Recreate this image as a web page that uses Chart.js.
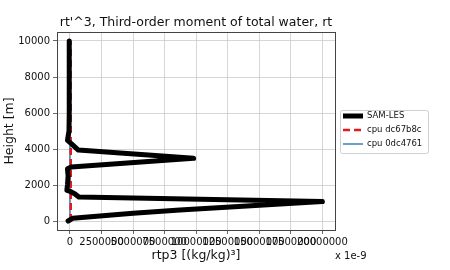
<!DOCTYPE html>
<html>
<head>
<meta charset="utf-8">
<script src="https://cdn.jsdelivr.net/npm/chart.js@4/dist/chart.umd.min.js"></script>
<style>
  html, body { margin: 0; padding: 0; background: #fff; }
  #wrap { width: 450px; height: 270px; position: relative; }
</style>
</head>
<body>
<div id="wrap"><canvas id="rtp3Chart"></canvas></div>
<script>
// SAM-LES profile (height in m, rtp3 in units of 1e-9 (kg/kg)^3)
const lesHeights = [0, 150, 430, 610, 1080, 1330, 1500, 1650, 1700, 2000, 2500, 2900, 3000, 3480, 3940, 4300, 4480, 5000, 6000, 7000, 8000, 9000, 10000];
const lesRtp3 = [-150000, 200000, 5000000, 8700000, 20000000, 700000, 400000, 0, -250000, -200000, -150000, -200000, 100000, 9800000, 660000, 100000, -200000, -80000, -60000, -60000, -60000, -60000, -60000];

// CLUBB runs, both stay close to zero
const cpuHeights = [0, 1000, 2000, 3000, 4000, 5000, 6000, 7000, 8000, 9000, 10000];
const cpuDc67Rtp3 = [60000, 60000, 60000, 60000, 60000, 50000, 50000, 50000, 50000, 50000, 50000];
const cpu0dc4Rtp3 = [0, 0, 0, 0, 0, 0, 0, 0, 0, 0, 0];

const xTicks = [0, 2500000, 5000000, 7500000, 10000000, 12500000, 15000000, 17500000, 20000000];
const yTicks = [0, 2000, 4000, 6000, 8000, 10000];

const seriesNames = ['SAM-LES', 'cpu dc67b8c', 'cpu 0dc4761'];

function toPoints(xs, ys) {
  return ys.map((h, i) => ({ x: xs[i], y: h }));
}

const FONT = 'DejaVu Sans';

// frame, legend box and the scale-factor note
const extrasPlugin = {
  id: 'extras',
  afterDatasetsDraw(chart) {
    const ctx = chart.ctx;
    const a = chart.chartArea;
    ctx.save();
    ctx.strokeStyle = '#444';
    ctx.lineWidth = 1;
    ctx.strokeRect(Math.round(a.left) + 0.5, Math.round(a.top) + 0.5, Math.round(a.right - a.left), Math.round(a.bottom - a.top));
    ctx.restore();
  },
  afterDraw(chart) {
    const ctx = chart.ctx;
    ctx.save();
    // legend
    const bx = 340, by = 110, bw = 88, bh = 43;
    ctx.fillStyle = 'rgba(255,255,255,0.9)';
    ctx.strokeStyle = '#d0d0d0';
    ctx.lineWidth = 1;
    ctx.beginPath();
    ctx.roundRect(bx + 0.5, by + 0.5, bw, bh, 2);
    ctx.fill();
    ctx.stroke();
    const rows = [116, 130, 144];
    chart.data.datasets.forEach((ds, i) => {
      const y = rows[i];
      ctx.strokeStyle = ds.borderColor;
      ctx.lineWidth = ds.borderWidth;
      ctx.setLineDash(ds.borderDash || []);
      ctx.lineCap = 'butt';
      ctx.beginPath();
      ctx.moveTo(343, y);
      ctx.lineTo(363, y);
      ctx.stroke();
      ctx.setLineDash([]);
      ctx.fillStyle = '#111';
      ctx.font = '8.5px "' + FONT + '"';
      ctx.textBaseline = 'middle';
      ctx.textAlign = 'left';
      ctx.fillText(ds.label, 367, y);
    });
    // scale factor
    ctx.fillStyle = '#111';
    ctx.font = '10px "' + FONT + '"';
    ctx.textBaseline = 'middle';
    ctx.fillText('x 1e-9', 335, 256);
    ctx.restore();
  }
};

const chart = new Chart(document.getElementById('rtp3Chart'), {
  type: 'scatter',
  data: {
    datasets: [
      {
        label: seriesNames[0],
        data: toPoints(lesRtp3, lesHeights),
        showLine: true,
        borderColor: '#000',
        backgroundColor: '#000',
        borderWidth: 5,
        borderCapStyle: 'round',
        borderJoinStyle: 'round',
        pointRadius: 0
      },
      {
        label: seriesNames[1],
        data: toPoints(cpuDc67Rtp3, cpuHeights),
        showLine: true,
        borderColor: '#e41a1c',
        backgroundColor: '#e41a1c',
        borderWidth: 2.5,
        borderDash: [7, 4],
        pointRadius: 0
      },
      {
        label: seriesNames[2],
        data: toPoints(cpu0dc4Rtp3, cpuHeights),
        showLine: true,
        borderColor: '#3a7ebf',
        backgroundColor: '#3a7ebf',
        borderWidth: 1.5,
        pointRadius: 0
      }
    ]
  },
  options: {
    responsive: true,
    maintainAspectRatio: false,
    animation: false,
    layout: { padding: { left: 0, right: 115, top: 0, bottom: 0 } },
    plugins: {
      legend: { display: false },
      tooltip: { enabled: false },
      title: {
        display: true,
        fullSize: false,
        text: "rt'^3, Third-order moment of total water, rt",
        color: '#111',
        font: { family: FONT, size: 12.5, weight: 'normal' },
        padding: { top: 15, bottom: 2 }
      }
    },
    scales: {
      x: {
        type: 'linear',
        min: -1030000,
        max: 21000000,
        afterBuildTicks(scale) {
          scale.ticks = xTicks.map(v => ({ value: v }));
        },
        afterFit(scale) { scale.height = 40; },
        ticks: {
          autoSkip: false,
          maxRotation: 0,
          minRotation: 0,
          color: '#111',
          padding: 2,
          font: { family: FONT, size: 10 },
          callback: v => String(v)
        },
        grid: { color: '#cbcbcb', lineWidth: 0.8, tickLength: 4, tickColor: '#444' },
        border: { display: false },
        title: {
          display: true,
          text: 'rtp3 [(kg/kg)³]',
          color: '#111',
          font: { family: FONT, size: 12.5 },
          padding: { top: 0, bottom: 7 }
        }
      },
      y: {
        type: 'linear',
        min: -500,
        max: 10500,
        afterBuildTicks(scale) {
          scale.ticks = yTicks.map(v => ({ value: v }));
        },
        afterFit(scale) { scale.width = 57; },
        ticks: {
          color: '#111',
          padding: 3,
          font: { family: FONT, size: 10 },
          callback: v => String(v)
        },
        grid: { color: '#cbcbcb', lineWidth: 0.8, tickLength: 4, tickColor: '#444' },
        border: { display: false },
        title: {
          display: true,
          text: 'Height [m]',
          color: '#111',
          font: { family: FONT, size: 12.5 },
          padding: { top: 2, bottom: 0 }
        }
      }
    }
  },
  plugins: [extrasPlugin]
});
</script>
</body>
</html>
